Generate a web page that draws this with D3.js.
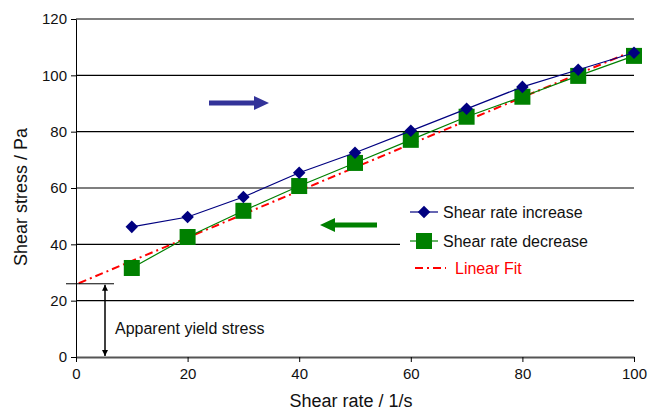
<!DOCTYPE html>
<html>
<head>
<meta charset="utf-8">
<script src="https://cdn.jsdelivr.net/npm/d3@7"></script>
<style>
  body { margin: 0; background: #fff; }
  text { font-family: "Liberation Sans", Arial, sans-serif; }
</style>
</head>
<body>
<svg id="chart" width="649" height="412"></svg>
<script>
// data
var shearRate = [10, 20, 30, 40, 50, 60, 70, 80, 90, 100];
var stressUp = [46.2, 49.7, 56.8, 65.4, 72.5, 80.3, 88.1, 95.9, 102.0, 108.0];
var stressDown = [31.6, 42.6, 51.9, 60.7, 68.9, 77.1, 85.3, 92.4, 99.8, 106.9];
var fitX = [0.5, 100];
var fitY = [26.2, 108.8];
var yieldStress = 26;
var xTicks = [0, 20, 40, 60, 80, 100];
var yTicks = [0, 20, 40, 60, 80, 100, 120];
var legendLabels = ["Shear rate increase", "Shear rate decrease", "Linear Fit"];

var svg = d3.select("#chart");
var x = d3.scaleLinear().domain([0, 100]).range([76, 634]);
var y = d3.scaleLinear().domain([0, 120]).range([357, 19]);

// gridlines
svg.append("g").selectAll("line").data(yTicks.filter(function (d) { return d > 0; }))
    .enter().append("line")
    .attr("x1", x(0)).attr("x2", x(100))
    .attr("y1", function (d) { return y(d); })
    .attr("y2", function (d) { return y(d); })
    .attr("stroke", "#000").attr("stroke-width", 1.2);

// y axis
var yAxis = svg.append("g").attr("transform", "translate(" + x(0) + ",0)")
    .call(d3.axisLeft(y).tickValues(yTicks).tickSize(5).tickSizeOuter(0));
yAxis.select(".domain").attr("stroke", "#000");
yAxis.selectAll("text").attr("font-size", 15).attr("fill", "#111").attr("dx", "-1");

// x axis
var xAxis = svg.append("g").attr("transform", "translate(0," + y(0) + ")")
    .call(d3.axisBottom(x).tickValues(xTicks).tickSize(5).tickSizeOuter(0));
xAxis.select(".domain").attr("stroke", "#555").attr("stroke-width", 2);
xAxis.selectAll(".tick line").attr("stroke", "#000");
xAxis.selectAll("text").attr("font-size", 15).attr("fill", "#111").attr("dy", "0.95em");

// axis titles
svg.append("text").attr("x", 351).attr("y", 407).attr("text-anchor", "middle")
    .attr("font-size", 18).attr("fill", "#111").text("Shear rate / 1/s");
svg.append("text").attr("transform", "translate(27,197) rotate(-90)")
    .attr("text-anchor", "middle").attr("font-size", 18).attr("fill", "#111")
    .text("Shear stress / Pa");

// white legend box hides the grid behind it
svg.append("rect").attr("x", 400).attr("y", 196).attr("width", 234).attr("height", 84)
    .attr("fill", "#fff");

// linear fit
var fitLine = d3.line().x(function (d) { return x(d[0]); }).y(function (d) { return y(d[1]); });
svg.append("path").datum(d3.zip(fitX, fitY)).attr("d", fitLine)
    .attr("fill", "none").attr("stroke", "#ff0000").attr("stroke-width", 2)
    .attr("stroke-dasharray", "8,4,2,4");

var line = d3.line().x(function (d) { return x(d[0]); }).y(function (d) { return y(d[1]); });

// decreasing series
svg.append("path").datum(d3.zip(shearRate, stressDown)).attr("d", line)
    .attr("fill", "none").attr("stroke", "#008000").attr("stroke-width", 1.2);
svg.append("g").selectAll("rect").data(d3.zip(shearRate, stressDown)).enter()
    .append("rect")
    .attr("x", function (d) { return x(d[0]) - 8; })
    .attr("y", function (d) { return y(d[1]) - 8; })
    .attr("width", 16).attr("height", 16).attr("fill", "#008000");

// increasing series
svg.append("path").datum(d3.zip(shearRate, stressUp)).attr("d", line)
    .attr("fill", "none").attr("stroke", "#000080").attr("stroke-width", 1.2);
var diamond = d3.symbol().type(d3.symbolDiamond2).size(100);
svg.append("g").selectAll("path").data(d3.zip(shearRate, stressUp)).enter()
    .append("path")
    .attr("d", diamond)
    .attr("transform", function (d) { return "translate(" + x(d[0]) + "," + y(d[1]) + ")"; })
    .attr("fill", "#000080");

// direction arrows
function arrow(x1, x2, yy, color) {
    var dir = x2 > x1 ? 1 : -1;
    var headStart = x2 - dir * 15;
    svg.append("line").attr("x1", x1).attr("x2", headStart).attr("y1", yy).attr("y2", yy)
        .attr("stroke", color).attr("stroke-width", 5);
    svg.append("path")
        .attr("d", "M" + headStart + "," + (yy - 7) + "L" + x2 + "," + yy + "L" + headStart + "," + (yy + 7) + "Z")
        .attr("fill", color);
}
arrow(209, 269, 103, "#333399");
arrow(377, 320, 225, "#008000");

// apparent yield stress marker
svg.append("line").attr("x1", 66).attr("x2", 114)
    .attr("y1", y(yieldStress)).attr("y2", y(yieldStress))
    .attr("stroke", "#000").attr("stroke-width", 1);
svg.append("defs").append("marker").attr("id", "ah")
    .attr("viewBox", "0 0 10 10").attr("refX", 10).attr("refY", 5)
    .attr("markerWidth", 4).attr("markerHeight", 4).attr("orient", "auto-start-reverse")
    .append("path").attr("d", "M0,0L10,5L0,10Z").attr("fill", "#000");
svg.append("line").attr("x1", 105).attr("x2", 105)
    .attr("y1", y(yieldStress) + 1).attr("y2", y(0) - 1)
    .attr("stroke", "#000").attr("stroke-width", 1.5)
    .attr("marker-start", "url(#ah)").attr("marker-end", "url(#ah)");
svg.append("text").attr("x", 115).attr("y", 334).attr("font-size", 16).attr("fill", "#111")
    .text("Apparent yield stress");

// legend
var lg = svg.append("g");
var rowY = [212, 241, 268];
lg.append("line").attr("x1", 410).attr("x2", 438).attr("y1", rowY[0]).attr("y2", rowY[0])
    .attr("stroke", "#000080").attr("stroke-width", 1.2);
lg.append("path").attr("d", diamond)
    .attr("transform", "translate(424," + rowY[0] + ")").attr("fill", "#000080");
lg.append("line").attr("x1", 410).attr("x2", 438).attr("y1", rowY[1]).attr("y2", rowY[1])
    .attr("stroke", "#008000").attr("stroke-width", 1.2);
lg.append("rect").attr("x", 416).attr("y", rowY[1] - 8).attr("width", 16).attr("height", 16)
    .attr("fill", "#008000");
lg.append("line").attr("x1", 415).attr("x2", 446).attr("y1", rowY[2]).attr("y2", rowY[2])
    .attr("stroke", "#ff0000").attr("stroke-width", 2).attr("stroke-dasharray", "8,4,2,4");
lg.selectAll("text").data(legendLabels).enter().append("text")
    .attr("x", function (d, i) { return i === 2 ? 455 : 443; })
    .attr("y", function (d, i) { return rowY[i] + 6; })
    .attr("font-size", 16)
    .attr("fill", function (d, i) { return i === 2 ? "#ff0000" : "#111"; })
    .text(function (d) { return d; });
</script>
</body>
</html>
